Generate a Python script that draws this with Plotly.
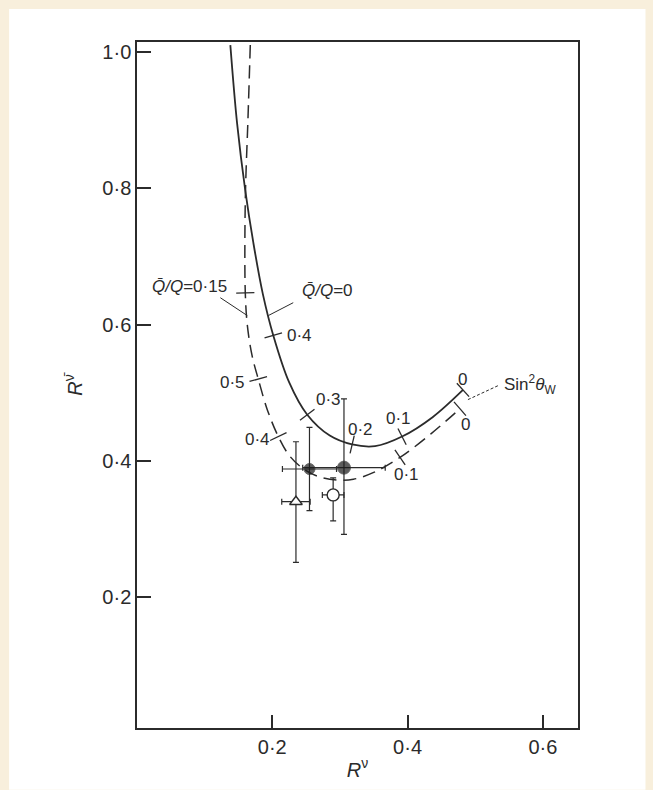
import numpy as np
import plotly.graph_objects as go

# ---------------- data ----------------
solid_x = [0.138, 0.148, 0.160, 0.172, 0.186, 0.2015, 0.225, 0.2517, 0.285, 0.3181, 0.352, 0.3919, 0.437, 0.4819]
solid_y = [1.010, 0.895, 0.797, 0.720, 0.645, 0.584, 0.515, 0.4676, 0.437, 0.424, 0.4215, 0.4356, 0.464, 0.504]

dashed_x = [0.1675, 0.164, 0.1605, 0.1595, 0.1601, 0.163, 0.170, 0.1793, 0.193, 0.2089, 0.225, 0.245, 0.268, 0.295, 0.320, 0.350, 0.3889, 0.435, 0.4775]
dashed_y = [1.010, 0.900, 0.800, 0.720, 0.6465, 0.600, 0.555, 0.520, 0.474, 0.4356, 0.408, 0.389, 0.377, 0.372, 0.373, 0.383, 0.4051, 0.440, 0.4764]

solid_tick_x = [0.2015, 0.2517, 0.3181, 0.3919, 0.4819]
solid_tick_y = [0.584, 0.4676, 0.424, 0.4356, 0.504]
solid_tick_text = ["0·4", "0·3", "0·2", "0·1", "0"]
solid_text_x = [0.2399, 0.2827, 0.3299, 0.3860, 0.4805]
solid_text_y = [0.5840, 0.4898, 0.4458, 0.4618, 0.5200]

dashed_tick_x = [0.1601, 0.1793, 0.2089, 0.3889, 0.4775]
dashed_tick_y = [0.6465, 0.520, 0.4356, 0.4051, 0.4764]
dashed_tick_text = ["0·5", "0·4", "0·1", "0"]
dashed_text_x = [0.1410, 0.1779, 0.3978, 0.4863]
dashed_text_y = [0.5156, 0.4313, 0.3804, 0.4531]

# experimental points
filled_x = [0.255, 0.306]
filled_y = [0.388, 0.390]
filled_ex = [0.040, 0.061]
filled_ey_plus = [0.061, 0.101]
filled_ey_minus = [0.061, 0.098]

tri_x = [0.235]
tri_y = [0.340]
tri_ex = [0.021]
tri_ey_plus = [0.088]
tri_ey_minus = [0.089]

open_x = [0.290]
open_y = [0.350]
open_ex = [0.016]
open_ey_plus = [0.025]
open_ey_minus = [0.038]

x_ticks = [0.2, 0.4, 0.6]
x_ticktext = ["0·2", "0·4", "0·6"]
y_ticks = [0.2, 0.4, 0.6, 0.8, 1.0]
y_ticktext = ["0·2", "0·4", "0·6", "0·8", "1·0"]

# ---------------- layout geometry ----------------
W, H = 653, 790
ML, MR, MT, MB = 137, 75, 42, 56
XR = [0.0, 0.652]
YR = [0.008, 1.0145]
sx = (W - ML - MR) / (XR[1] - XR[0])
sy = (H - MT - MB) / (YR[1] - YR[0])

INK = "#2b2b2b"
FONT = "Liberation Sans"
CREAM = "#f8efdc"


def tick_angles(cx, cy, tx, ty):
    cx = np.asarray(cx); cy = np.asarray(cy)
    out = []
    for x, y in zip(tx, ty):
        d = ((cx - x) * sx) ** 2 + ((cy - y) * sy) ** 2
        i = int(np.argmin(d))
        i0, i1 = max(i - 1, 0), min(i + 1, len(cx) - 1)
        dx = (cx[i1] - cx[i0]) * sx
        dy = (cy[i1] - cy[i0]) * sy
        out.append(float(np.degrees(np.arctan2(-dy, dx))))
    return out


fig = go.Figure()

fig.add_trace(go.Scatter(x=solid_x, y=solid_y, mode="lines",
                         line=dict(color=INK, width=1.8, shape="spline"),
                         hoverinfo="skip", showlegend=False))
fig.add_trace(go.Scatter(x=dashed_x, y=dashed_y, mode="lines",
                         line=dict(color=INK, width=1.5, shape="spline", dash="13px,7px"),
                         hoverinfo="skip", showlegend=False))

# cross-ticks on the curves
fig.add_trace(go.Scatter(x=solid_tick_x, y=solid_tick_y, mode="markers",
                         marker=dict(symbol="line-ns", size=13,
                                     angle=tick_angles(solid_x, solid_y, solid_tick_x, solid_tick_y),
                                     line=dict(color=INK, width=1.3)),
                         hoverinfo="skip", showlegend=False))
fig.add_trace(go.Scatter(x=dashed_tick_x, y=dashed_tick_y, mode="markers",
                         marker=dict(symbol="line-ns", size=13,
                                     angle=tick_angles(dashed_x, dashed_y, dashed_tick_x, dashed_tick_y),
                                     line=dict(color=INK, width=1.3)),
                         hoverinfo="skip", showlegend=False))

eb = dict(color=INK, thickness=1.2, width=3)

fig.add_trace(go.Scatter(x=tri_x, y=tri_y, mode="markers",
                         error_x=dict(type="data", array=tri_ex, **eb),
                         error_y=dict(type="data", array=tri_ey_plus, arrayminus=tri_ey_minus, **eb),
                         marker=dict(symbol="triangle-up", size=11, color="white",
                                     line=dict(color=INK, width=1.4)),
                         showlegend=False))
fig.add_trace(go.Scatter(x=open_x, y=open_y, mode="markers",
                         error_x=dict(type="data", array=open_ex, **eb),
                         error_y=dict(type="data", array=open_ey_plus, arrayminus=open_ey_minus, **eb),
                         marker=dict(symbol="circle", size=12, color="white",
                                     line=dict(color=INK, width=1.4)),
                         showlegend=False))
fig.add_trace(go.Scatter(x=filled_x, y=filled_y, mode="markers",
                         error_x=dict(type="data", array=filled_ex, **eb),
                         error_y=dict(type="data", array=filled_ey_plus, arrayminus=filled_ey_minus, **eb),
                         marker=dict(symbol="circle", size=[11, 13], color="#1a1a1a",
                                     line=dict(color=INK, width=1)),
                         showlegend=False))

ann = []
for t, x, y in zip(solid_tick_text, solid_text_x, solid_text_y):
    ann.append(dict(x=x, y=y, text=t, showarrow=False, font=dict(size=17, color=INK, family=FONT)))
for t, x, y in zip(dashed_tick_text, dashed_text_x, dashed_text_y):
    ann.append(dict(x=x, y=y, text=t, showarrow=False, font=dict(size=17, color=INK, family=FONT)))

ann.append(dict(x=0.0775, y=0.6553, text="<i>Q̄/Q</i>=0·15", showarrow=False,
                font=dict(size=17, color=INK, family=FONT)))
ann.append(dict(x=0.2413, y=0.6495, text="<i>Q̄/Q</i>=0", showarrow=False, xanchor="left",
                font=dict(size=17, color=INK, family=FONT)))
ann.append(dict(x=0.5395, y=0.5113, text="Sin<sup>2</sup><i>θ</i><sub>W</sub>", showarrow=False,
                xanchor="left", font=dict(size=17, color=INK, family=FONT)))

shapes = [
    dict(type="rect", xref="paper", yref="paper", x0=-0.29, x1=1.153, y0=-0.09, y1=1.048,
         fillcolor="white", line=dict(width=0), layer="below"),
    dict(type="line", x0=0.1232, y0=0.6393, x1=0.1631, y1=0.6131, line=dict(color=INK, width=1)),
    dict(type="line", x0=0.2310, y0=0.6320, x1=0.1941, y1=0.6131, line=dict(color=INK, width=1)),
    dict(type="line", x0=0.4893, y0=0.4898, x1=0.5336, y1=0.5102, line=dict(color=INK, width=1, dash="3px,2px")),
]

fig.update_layout(
    width=W, height=H,
    margin=dict(l=ML, r=MR, t=MT, b=MB),
    paper_bgcolor=CREAM,
    plot_bgcolor="white",
    annotations=ann,
    shapes=shapes,
    showlegend=False,
    font=dict(family=FONT, color=INK),
)
fig.update_xaxes(range=XR, showgrid=False, zeroline=False, showline=True, mirror=True,
                 linecolor=INK, linewidth=1.5,
                 ticks="inside", ticklen=13, tickwidth=1.5, tickcolor=INK,
                 tickvals=x_ticks, ticktext=x_ticktext,
                 tickfont=dict(size=20, color=INK, family=FONT),
                 title=dict(text="<i>R</i><sup>ν</sup>", font=dict(size=20, color=INK, family=FONT), standoff=6))
fig.update_yaxes(range=YR, showgrid=False, zeroline=False, showline=True, mirror=True,
                 linecolor=INK, linewidth=1.5,
                 ticks="inside", ticklen=14, tickwidth=1.5, tickcolor=INK,
                 tickvals=y_ticks, ticktext=y_ticktext,
                 tickfont=dict(size=20, color=INK, family=FONT),
                 title=dict(text="<i>R</i><sup>ν̄</sup>", font=dict(size=20, color=INK, family=FONT), standoff=14))

fig.write_html("out.html", config={"displayModeBar": False},
               post_script="document.body.style.margin='0';document.body.style.background='" + CREAM + "';")
